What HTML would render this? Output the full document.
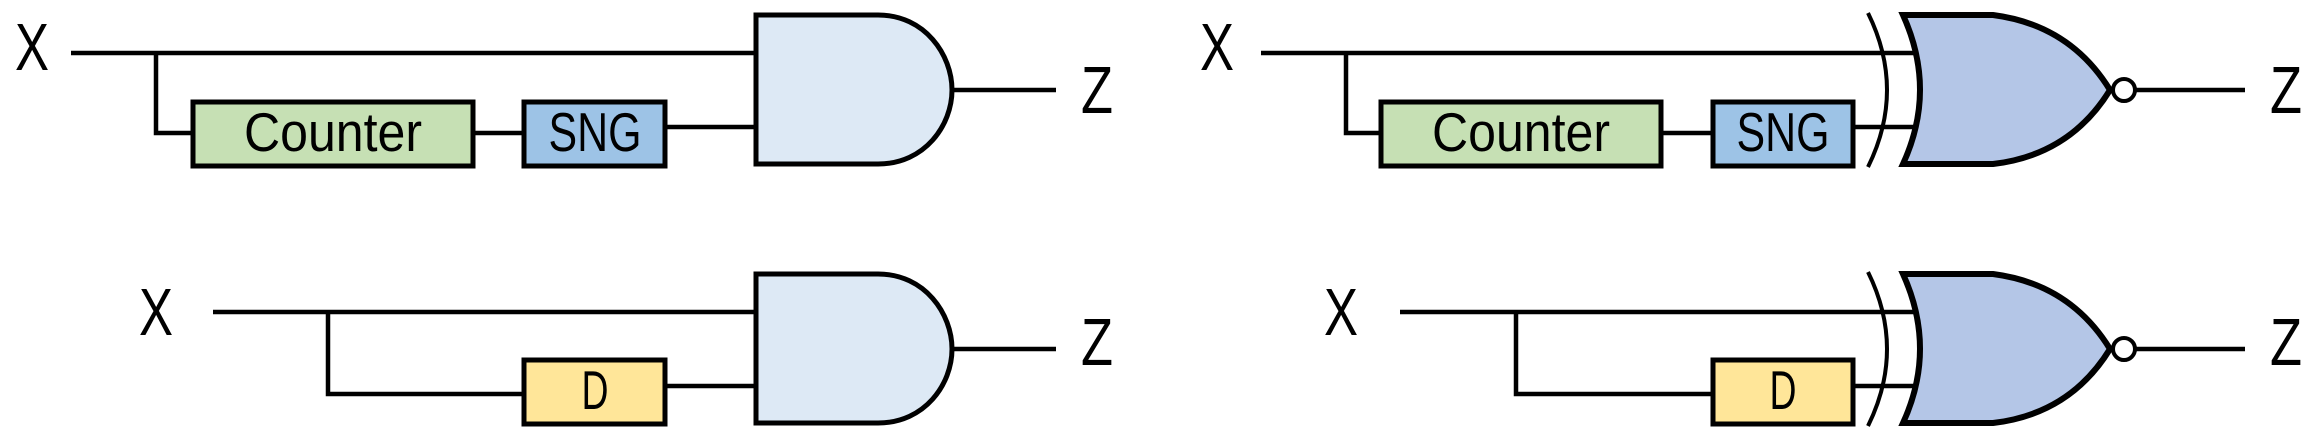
<!DOCTYPE html>
<html><head><meta charset="utf-8"><style>html,body{margin:0;padding:0;background:#fff}</style></head>
<body>
<svg width="2304" height="443" viewBox="0 0 2304 443" xmlns="http://www.w3.org/2000/svg" font-family="Liberation Sans, sans-serif">
<defs>
<g id="andg">
<path d="M756,15 H878 C925,15 952,55 952,90 C952,125 925,164 878,164 H756 Z" fill="#dde9f5" stroke="#000" stroke-width="5"/>
</g>
<g id="org">
<path d="M1903,15 L1993,15 Q2070,25 2110,90 Q2070,155 1993,164 L1903,164 Q1937,90 1903,15 Z" fill="#b4c6e7" stroke="#000" stroke-width="6"/>
<path d="M1868,13 Q1906,90 1868,167" fill="none" stroke="#000" stroke-width="4"/>
<circle cx="2124" cy="90" r="11" fill="#fff" stroke="#000" stroke-width="4"/>
</g>
</defs>
<g stroke="#000" stroke-width="4.5" fill="none">
<path d="M71,53 H758 M156,53 V133 H193 M473,133 H524 M665,127 H758 M952,90 H1056"/>
<path d="M213,312 H758 M328,312 V394 H524 M665,386 H758 M952,349 H1056"/>
<path d="M1261,53 H1915 M1346,53 V133 H1381 M1661,133 H1713 M1853,127 H1915 M2135,90 H2245"/>
<path d="M1400,312 H1915 M1516,312 V394 H1713 M1853,386 H1915 M2135,349 H2245"/>
</g>
<use href="#andg"/>
<use href="#andg" transform="translate(0,259)"/>
<use href="#org"/>
<use href="#org" transform="translate(0,259)"/>
<g stroke="#000" stroke-width="5">
<rect x="193" y="102" width="280" height="64" fill="#c6e0b4"/>
<rect x="524" y="102" width="141" height="64" fill="#9dc3e6"/>
<rect x="524" y="360" width="141" height="64" fill="#ffe699"/>
<rect x="1381" y="102" width="280" height="64" fill="#c6e0b4"/>
<rect x="1713" y="102" width="140" height="64" fill="#9dc3e6"/>
<rect x="1713" y="360" width="140" height="64" fill="#ffe699"/>
</g>
<g font-size="55" text-anchor="middle" fill="#000">
<text x="333" y="151" textLength="178" lengthAdjust="spacingAndGlyphs">Counter</text>
<text x="595" y="151" textLength="93" lengthAdjust="spacingAndGlyphs">SNG</text>
<text x="595" y="409" textLength="27" lengthAdjust="spacingAndGlyphs">D</text>
<text x="1521" y="151" textLength="178" lengthAdjust="spacingAndGlyphs">Counter</text>
<text x="1783" y="151" textLength="93" lengthAdjust="spacingAndGlyphs">SNG</text>
<text x="1783" y="409" textLength="27" lengthAdjust="spacingAndGlyphs">D</text>
</g>
<g font-size="67" text-anchor="middle" fill="#000">
<text x="32" y="70" textLength="34" lengthAdjust="spacingAndGlyphs">X</text>
<text x="156" y="335" textLength="34" lengthAdjust="spacingAndGlyphs">X</text>
<text x="1097" y="113" textLength="32" lengthAdjust="spacingAndGlyphs">Z</text>
<text x="1097" y="365" textLength="32" lengthAdjust="spacingAndGlyphs">Z</text>
<text x="1217" y="70" textLength="34" lengthAdjust="spacingAndGlyphs">X</text>
<text x="1341" y="335" textLength="34" lengthAdjust="spacingAndGlyphs">X</text>
<text x="2286" y="113" textLength="32" lengthAdjust="spacingAndGlyphs">Z</text>
<text x="2286" y="365" textLength="32" lengthAdjust="spacingAndGlyphs">Z</text>
</g>
</svg>
</body></html>
